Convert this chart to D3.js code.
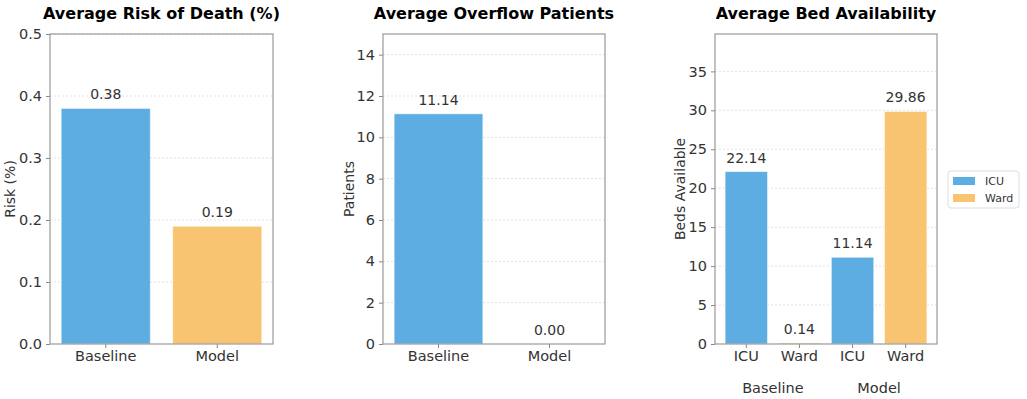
<!DOCTYPE html>
<html>
<head>
<meta charset="utf-8">
<script src="https://cdn.jsdelivr.net/npm/d3@7"></script>
<style>
  body { margin: 0; background: #fff; }
  text { font-family: "DejaVu Sans", sans-serif; }
</style>
</head>
<body>
<div id="chart"></div>
<script>
// data
const scenarios = ["Baseline", "Model"]
const riskValues = [0.38, 0.19]
const overflowValues = [11.14, 0.00]
const bedTypes = ["ICU", "Ward"]
const bedBaseline = [22.14, 0.14]
const bedModel = [11.14, 29.86]
const riskTicks = [0, 0.1, 0.2, 0.3, 0.4, 0.5]
const overflowTicks = [0, 2, 4, 6, 8, 10, 12, 14]
const bedTicks = [0, 5, 10, 15, 20, 25, 30, 35]

const BLUE = "#5DADE2", ORANGE = "#F8C471"
const W = 1027, H = 399
const plotTop = 34, plotBottom = 344
const TICK_FONT = "14.5px"

const svg = d3.select("#chart").append("svg")
  .attr("width", W).attr("height", H)

// draws the grid, y axis and titles of one panel, returns the y scale
function panel(g, left, right, ymax, ticks, fmt, title, ylabel, ylabelX) {
  const y = d3.scaleLinear().domain([0, ymax]).range([plotBottom, plotTop])

  // dashed grid
  g.append("g").selectAll("line")
    .data(ticks.filter(t => t > 0))
    .enter().append("line")
      .attr("x1", left).attr("x2", right)
      .attr("y1", d => y(d)).attr("y2", d => y(d))
      .attr("stroke", "#d9d9d9")
      .attr("stroke-dasharray", "2,2")
      .attr("stroke-width", 0.8)

  const axis = g.append("g")
    .attr("transform", "translate(" + left + ",0)")
    .call(d3.axisLeft(y).tickValues(ticks).tickFormat(fmt).tickSize(4).tickPadding(4))
  axis.select(".domain").remove()
  axis.selectAll("line").attr("stroke", "#888")
  axis.selectAll("text").style("font-size", TICK_FONT).attr("fill", "#333")

  g.append("text")
    .attr("x", (left + right) / 2).attr("y", 19)
    .attr("text-anchor", "middle")
    .style("font-size", "16px").style("font-weight", "bold")
    .text(title)

  g.append("text")
    .attr("transform", "translate(" + ylabelX + "," + ((plotTop + plotBottom) / 2) + ") rotate(-90)")
    .attr("text-anchor", "middle")
    .attr("dy", "0.35em")
    .style("font-size", "14px").attr("fill", "#333")
    .text(ylabel)

  return y
}

function frame(g, left, right) {
  g.append("rect")
    .attr("x", left).attr("y", plotTop)
    .attr("width", right - left).attr("height", plotBottom - plotTop)
    .attr("fill", "none").attr("stroke", "#999").attr("stroke-width", 1.2)
}

function xLabel(g, x, yy, txt) {
  g.append("text").attr("x", x).attr("y", yy)
    .attr("text-anchor", "middle")
    .style("font-size", TICK_FONT).attr("fill", "#333")
    .text(txt)
}

function bars(g, data, x, y, bw) {
  g.append("g").selectAll("rect")
    .data(data)
    .enter().append("rect")
      .attr("x", d => x(d.pos) - bw / 2)
      .attr("width", bw)
      .attr("y", d => y(d.value))
      .attr("height", d => Math.max(y(0) - y(d.value), 0.5))
      .attr("fill", d => d.color)
      .attr("stroke", "#fff").attr("stroke-opacity", 0.6).attr("stroke-width", 1)

  g.append("g").selectAll("text")
    .data(data)
    .enter().append("text")
      .attr("x", d => x(d.pos))
      .attr("y", d => y(d.value) - 9)
      .attr("text-anchor", "middle")
      .style("font-size", "14px").attr("fill", "#333")
      .text(d => d.value.toFixed(2))
}

function tickMarks(g, positions, x) {
  g.append("g").selectAll("line")
    .data(positions)
    .enter().append("line")
      .attr("x1", d => x(d)).attr("x2", d => x(d))
      .attr("y1", plotBottom).attr("y2", plotBottom + 4)
      .attr("stroke", "#888")
}

// --- panel 1 : risk of death
{
  const g = svg.append("g")
  const left = 50, right = 273
  const y = panel(g, left, right, 0.5, riskTicks, d3.format(".1f"), "Average Risk of Death (%)", "Risk (%)", 10)
  const x = d3.scaleLinear().domain([-0.5, 1.5]).range([left, right])
  const data = riskValues.map((v, i) => ({pos: i, value: v, color: i === 0 ? BLUE : ORANGE}))
  bars(g, data, x, y, x(0.8) - x(0))
  tickMarks(g, [0, 1], x)
  scenarios.forEach((s, i) => xLabel(g, x(i), 361, s))
  frame(g, left, right)
}

// --- panel 2 : overflow patients
{
  const g = svg.append("g")
  const left = 383, right = 605
  const y = panel(g, left, right, 15, overflowTicks, d3.format("d"), "Average Overflow Patients", "Patients", 349)
  const x = d3.scaleLinear().domain([-0.5, 1.5]).range([left, right])
  const data = overflowValues.map((v, i) => ({pos: i, value: v, color: BLUE}))
  bars(g, data.filter(d => d.value > 0), x, y, x(0.8) - x(0))
  // the zero bar only keeps its label
  g.append("text")
    .attr("x", x(1)).attr("y", y(0) - 9)
    .attr("text-anchor", "middle")
    .style("font-size", "14px").attr("fill", "#333")
    .text(overflowValues[1].toFixed(2))
  tickMarks(g, [0, 1], x)
  scenarios.forEach((s, i) => xLabel(g, x(i), 361, s))
  frame(g, left, right)
}

// --- panel 3 : bed availability, grouped
{
  const g = svg.append("g")
  const left = 715, right = 937
  const y = panel(g, left, right, 39.8, bedTicks, d3.format("d"), "Average Bed Availability", "Beds Available", 680)
  const x = d3.scaleLinear().domain([-0.545, 1.545]).range([left, right])
  const bw = x(0.4) - x(0)
  const data = []
  ;[bedBaseline, bedModel].forEach((vals, gi) => {
    vals.forEach((v, bi) => {
      data.push({pos: gi + (bi === 0 ? -0.25 : 0.25), value: v, color: bi === 0 ? BLUE : ORANGE, type: bedTypes[bi]})
    })
  })
  bars(g, data, x, y, bw)
  tickMarks(g, data.map(d => d.pos), x)
  data.forEach(d => xLabel(g, x(d.pos), 361, d.type))
  scenarios.forEach((s, i) => xLabel(g, x(i), 393, s))
  frame(g, left, right)

  // legend
  const lg = g.append("g").attr("transform", "translate(948,171)")
  lg.append("rect")
    .attr("width", 71).attr("height", 37).attr("rx", 3)
    .attr("fill", "#fff").attr("stroke", "#ddd")
  bedTypes.forEach((t, i) => {
    lg.append("rect")
      .attr("x", 5).attr("y", 6 + i * 17)
      .attr("width", 22).attr("height", 8)
      .attr("fill", i === 0 ? BLUE : ORANGE)
    lg.append("text")
      .attr("x", 37).attr("y", 14 + i * 17)
      .style("font-size", "11px").attr("fill", "#333")
      .text(t)
  })
}
</script>
</body>
</html>
